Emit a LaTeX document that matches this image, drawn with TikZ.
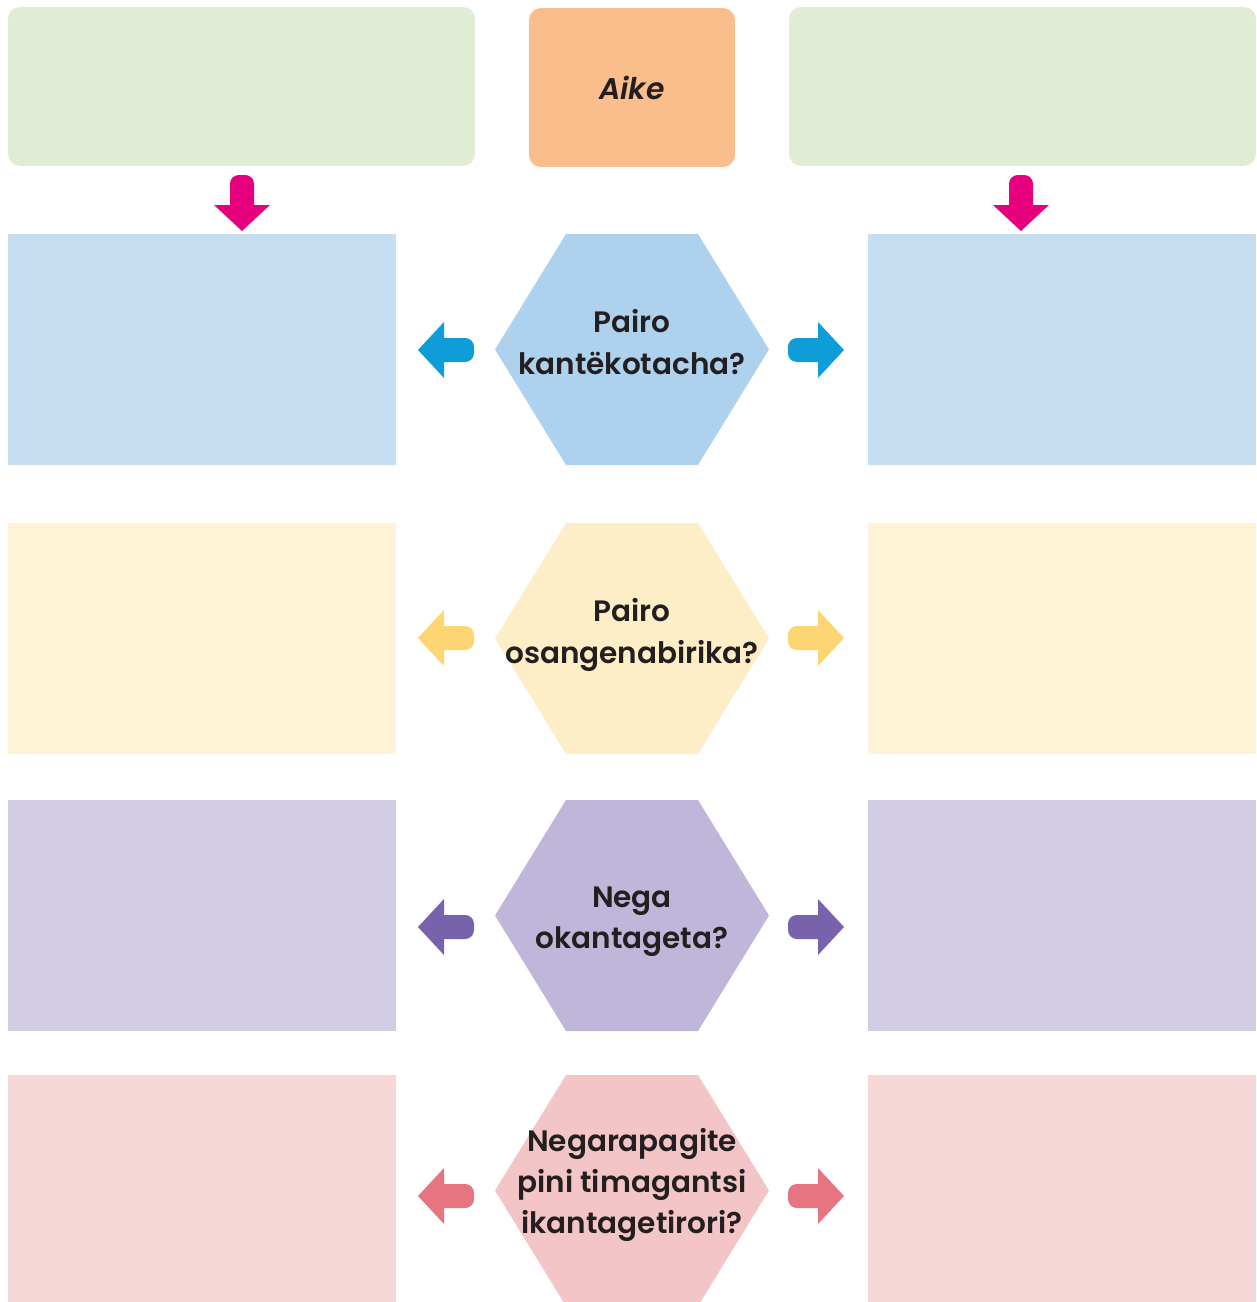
\documentclass[tikz,border=0pt]{standalone}
\usepackage{fontspec}
\setmainfont{Poppins}[BoldFont={Poppins SemiBold}, BoldItalicFont={Poppins SemiBold Italic}]
\usepackage{tikz}
\usetikzlibrary{positioning,calc}

\definecolor{ink}{HTML}{231F20}
\definecolor{boxgreen}{HTML}{E0ECD4}
\definecolor{boxorange}{HTML}{FABD8C}
\definecolor{arrmag}{HTML}{E6007E}
\definecolor{boxblue}{HTML}{C6DEF2}
\definecolor{hexblue}{HTML}{AED1EE}
\definecolor{arrblue}{HTML}{0E9DD9}
\definecolor{boxyel}{HTML}{FEF3D7}
\definecolor{hexyel}{HTML}{FDEEC7}
\definecolor{arryel}{HTML}{FDD573}
\definecolor{boxpur}{HTML}{D2CCE5}
\definecolor{hexpur}{HTML}{BFB6D9}
\definecolor{arrpur}{HTML}{7763AC}
\definecolor{boxpink}{HTML}{F6D7D7}
\definecolor{hexpink}{HTML}{F3C5C6}
\definecolor{arrpink}{HTML}{E77481}

\begin{document}
\begin{tikzpicture}[x=0.02cm, y=-0.02cm,
    qtext/.style={text=ink, font=\bfseries\fontsize{16.8}{23.5}\selectfont, align=center, inner sep=0pt},
    topbox/.style={rounded corners=0.24cm, minimum height=3.18cm, inner sep=0pt},
    answer/.style={minimum width=7.76cm, minimum height=4.62cm, inner sep=0pt},
    pics/barrow/.style={code={\fill[#1] (0,-12) {[rounded corners=5pt] -- (-30,-12) -- (-30,12)} -- (0,12) -- (0,28) -- (26,0) -- (0,-28) -- cycle;}}]
    \useasboundingbox (0,0) rectangle (1257,1302);
    % Top boxes
    \node [topbox, fill=boxgreen, minimum width=9.34cm] (lefttop) at (241.5,86.5) {};
    \node [topbox, fill=boxorange, minimum width=4.12cm, qtext, font=\bfseries\itshape\fontsize{17}{23.5}\selectfont] (aike) at (632,87.5) {Aike};
    \node [topbox, fill=boxgreen, minimum width=9.34cm] (righttop) at (1022.5,86.5) {};
    % Down arrows
    \pic [rotate=-90] at (242,205) {barrow=arrmag};
    \pic [rotate=-90] at (1021,205) {barrow=arrmag};
    % Rows
    \foreach \n/\yc/\ya/\ty/\col/\txt in {
        1/349.5/350/342/blue/{Pairo\\kantëkotacha?},
        2/638.5/638/635/yel/{Pairo\\osangenabirika?},
        3/915.5/927/922/pur/{Nega\\okantageta?},
        4/1190.5/1196/1185/pink/{Negarapagite\\pini timagantsi\\ikantagetirori?}} {
        \node [answer, fill=box\col] (left\n) at (202,\yc) {};
        \node [answer, fill=box\col] (right\n) at (1062,\yc) {};
        \coordinate (c\n) at (632,\yc);
        \fill [hex\col] ($(c\n)+(-137,0)$) -- ($(c\n)+(-66,-115.5)$) -- ($(c\n)+(66,-115.5)$)
            -- ($(c\n)+(137,0)$) -- ($(c\n)+(66,115.5)$) -- ($(c\n)+(-66,115.5)$) -- cycle;
        \node [qtext] (q\n) at (632,\ty) {\txt};
        \pic [rotate=180] at (444,\ya) {barrow=arr\col};
        \pic at (818,\ya) {barrow=arr\col};
    }
\end{tikzpicture}
\end{document}
